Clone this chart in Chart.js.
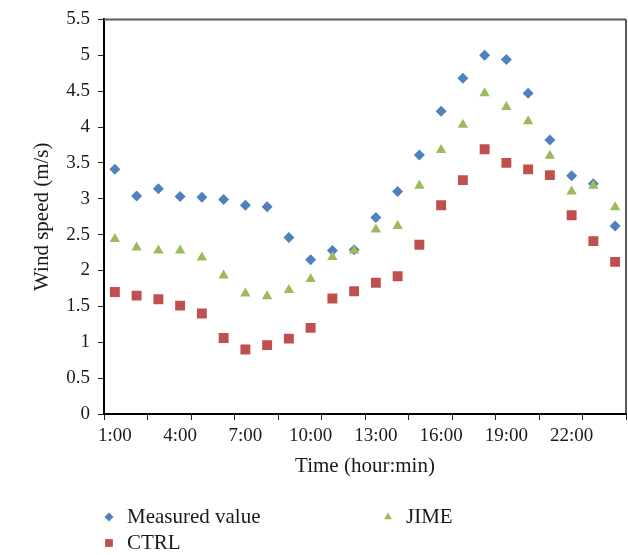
<!DOCTYPE html>
<html>
<head>
<meta charset="utf-8">
<title>Wind speed</title>
<script src="https://cdn.jsdelivr.net/npm/chart.js@4.4.1/dist/chart.umd.min.js"></script>
<style>
  html, body { margin: 0; padding: 0; background: #fff; }
  #wrap { position: relative; width: 628px; height: 555px; }
</style>
</head>
<body>
<div id="wrap"><canvas id="windChart" width="628" height="555"></canvas></div>
<script>
// Hourly wind speed: measurement vs. the two model runs (CTRL, JIME)

const hours = ['1:00', '2:00', '3:00', '4:00', '5:00', '6:00', '7:00', '8:00',
  '9:00', '10:00', '11:00', '12:00', '13:00', '14:00', '15:00', '16:00',
  '17:00', '18:00', '19:00', '20:00', '21:00', '22:00', '23:00', '24:00'];

const measured = [3.41, 3.04, 3.14, 3.03, 3.02, 2.99, 2.91, 2.89, 2.46, 2.15, 2.28, 2.29,
  2.74, 3.10, 3.61, 4.22, 4.68, 5.00, 4.94, 4.47, 3.82, 3.32, 3.21, 2.62];

const ctrl = [1.70, 1.65, 1.60, 1.51, 1.40, 1.06, 0.90, 0.96, 1.05, 1.20, 1.61, 1.71,
  1.83, 1.92, 2.36, 2.91, 3.26, 3.69, 3.50, 3.41, 3.33, 2.77, 2.41, 2.12];

const jime = [2.44, 2.32, 2.28, 2.28, 2.18, 1.93, 1.68, 1.64, 1.73, 1.88, 2.19, 2.28,
  2.57, 2.62, 3.18, 3.68, 4.03, 4.47, 4.28, 4.08, 3.60, 3.10, 3.18, 2.88];

const yMin = 0;
const yMax = 5.5;
const yStep = 0.5;

const FONT = '"Liberation Serif", "Times New Roman", serif';
const BLUE = '#4F81BD';
const RED = '#C0504D';
const GREEN = '#9BBB59';

// ====== PLUGINS ======

// top + right edge of the plot box (the axes draw left/bottom)
const framePlugin = {
  id: 'frame',
  afterDraw(chart) {
    const { ctx, chartArea: a } = chart;
    ctx.save();
    ctx.lineWidth = 2;
    ctx.strokeStyle = '#5a5a5a';
    ctx.beginPath();
    ctx.moveTo(a.left, a.top);
    ctx.lineTo(a.right, a.top);
    ctx.stroke();
    ctx.lineWidth = 1.5;
    ctx.strokeStyle = '#222';
    ctx.beginPath();
    ctx.moveTo(a.right, a.top);
    ctx.lineTo(a.right, a.bottom);
    ctx.stroke();
    ctx.restore();
  }
};

// legend in two columns under the x title
const legendPlugin = {
  id: 'colLegend',
  afterDraw(chart) {
    const { ctx } = chart;
    const spots = [
      { ds: 0, x: 109, y: 517 },
      { ds: 1, x: 109, y: 543 },
      { ds: 2, x: 388, y: 517 },
    ];
    ctx.save();
    ctx.font = `21px ${FONT}`;
    ctx.textBaseline = 'middle';
    ctx.textAlign = 'left';
    spots.forEach(s => {
      const ds = chart.data.datasets[s.ds];
      ctx.fillStyle = ds.backgroundColor;
      ctx.strokeStyle = ds.backgroundColor;
      ctx.lineWidth = 1;
      Chart.helpers.drawPoint(ctx, {
        pointStyle: ds.pointStyle,
        radius: ds.pointStyle === 'rect' ? 5.5 : 4.5,
        rotation: 0,
        borderWidth: 0,
      }, s.x, s.y);
      ctx.fillStyle = '#1a1a1a';
      ctx.fillText(ds.label, s.x + 18, s.y);
    });
    ctx.restore();
  }
};

// ====== CHART ======

const ctx = document.getElementById('windChart');

new Chart(ctx, {
  type: 'line',
  data: {
    labels: hours,
    datasets: [
      {
        label: 'Measured value', data: measured, showLine: false,
        pointStyle: 'rectRot', pointRadius: 5.5, pointHoverRadius: 5.5,
        backgroundColor: BLUE, borderColor: BLUE, pointBorderWidth: 0, order: 3,
      },
      {
        label: 'CTRL', data: ctrl, showLine: false,
        pointStyle: 'rect', pointRadius: 7, pointHoverRadius: 7,
        backgroundColor: RED, borderColor: RED, pointBorderWidth: 0, order: 2,
      },
      {
        label: 'JIME', data: jime, showLine: false,
        pointStyle: 'triangle', pointRadius: 6, pointHoverRadius: 6,
        backgroundColor: GREEN, borderColor: GREEN, pointBorderWidth: 0, order: 1,
      },
    ]
  },
  options: {
    responsive: false,
    animation: false,
    devicePixelRatio: 1,
    layout: { autoPadding: false, padding: { top: 12, right: 2, left: 0, bottom: 71 } },
    plugins: { legend: { display: false }, tooltip: { enabled: false } },
    scales: {
      x: {
        type: 'category',
        offset: true,
        afterFit: (scale) => { scale.height = 70; },
        border: { color: '#000', width: 2 },
        grid: {
          offset: true,
          drawOnChartArea: false,
          tickLength: 6,
          tickWidth: 1,
          // a tick mark every second hour
          tickColor: (c) => (c.index % 2 ? 'rgba(0,0,0,0)' : '#222'),
        },
        ticks: {
          autoSkip: false,
          maxRotation: 0,
          padding: 5,
          color: '#1a1a1a',
          font: { family: FONT, size: 19 },
          callback: function (value, index) {
            return index % 3 === 0 ? this.getLabelForValue(value) : '';
          }
        },
        title: {
          display: true,
          text: 'Time (hour:min)',
          color: '#1a1a1a',
          font: { family: FONT, size: 21 },
          padding: { top: 0, bottom: 5 }
        }
      },
      y: {
        min: yMin,
        max: yMax,
        afterFit: (scale) => { scale.width = 104; },
        border: { color: '#000', width: 2 },
        grid: { drawOnChartArea: false, tickLength: 6, tickWidth: 1, tickColor: '#222' },
        ticks: {
          stepSize: yStep,
          padding: 8,
          color: '#1a1a1a',
          font: { family: FONT, size: 19 },
          callback: (v) => String(v)
        },
        title: {
          display: true,
          text: 'Wind speed (m/s)',
          color: '#1a1a1a',
          font: { family: FONT, size: 21 },
          padding: { top: 30, bottom: 0 }
        }
      }
    }
  },
  plugins: [framePlugin, legendPlugin]
});
</script>
</body>
</html>
